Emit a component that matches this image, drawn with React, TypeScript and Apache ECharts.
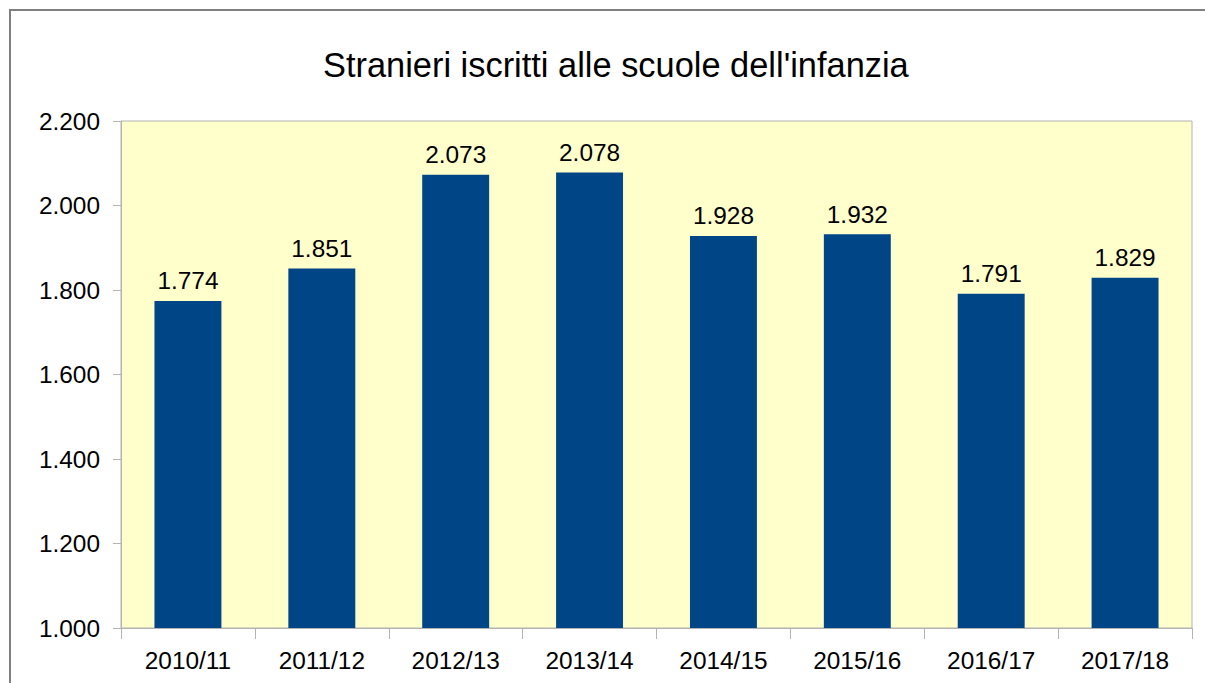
import React, { useEffect, useRef } from "react";
import * as echarts from "echarts";

const categories = ["2010/11", "2011/12", "2012/13", "2013/14", "2014/15", "2015/16", "2016/17", "2017/18"];
const values = [1774, 1851, 2073, 2078, 1928, 1932, 1791, 1829];
const titleText = "Stranieri iscritti alle scuole dell'infanzia";

const fmt = (v: number) => {
  const s = Math.round(v).toString();
  return s.replace(/\B(?=(\d{3})+(?!\d))/g, ".");
};

export default function App() {
  const ref = useRef<HTMLDivElement>(null);
  useEffect(() => {
    if (!ref.current) return;
    const chart = echarts.init(ref.current, null, { renderer: "svg" });
    const font = "'Liberation Sans', Arial, sans-serif";
    chart.setOption({
      animation: false,
      backgroundColor: "#ffffff",
      textStyle: { fontFamily: font },
      title: {
        text: titleText,
        left: 323,
        top: 48,
        padding: 0,
        textStyle: { fontSize: 34.4, fontWeight: "normal", color: "#000", fontFamily: font },
      },
      graphic: [
        {
          type: "rect",
          shape: { x: 10, y: 10, width: 1400, height: 1000 },
          style: { fill: "none", stroke: "#808080", lineWidth: 2 },
          silent: true,
        },
      ],
      grid: {
        left: 121,
        right: 13,
        top: 121,
        bottom: 55,
        show: true,
        backgroundColor: "#ffffcc",
        borderColor: "#b3b3b3",
        borderWidth: 1,
        containLabel: false,
      },
      xAxis: {
        type: "category",
        data: categories,
        axisLine: { show: true, lineStyle: { color: "#b3b3b3", width: 1 } },
        axisTick: { show: true, length: 11, lineStyle: { color: "#b3b3b3" } },
        axisLabel: { color: "#000", fontSize: 24.4, margin: 20, fontFamily: font },
        splitLine: { show: false },
      },
      yAxis: {
        type: "value",
        min: 1000,
        max: 2200,
        interval: 200,
        axisLine: { show: true, lineStyle: { color: "#b3b3b3", width: 1 } },
        axisTick: { show: true, length: 8, lineStyle: { color: "#b3b3b3" } },
        axisLabel: { color: "#000", fontSize: 24.4, margin: 21, fontFamily: font, formatter: (v: number) => fmt(v) },
        splitLine: { show: false },
      },
      series: [
        {
          type: "bar",
          data: values,
          barWidth: "50%",
          itemStyle: { color: "#004586" },
          label: {
            show: true,
            position: "top",
            distance: 8,
            color: "#000",
            fontSize: 24.4,
            fontFamily: font,
            formatter: (p: any) => fmt(p.value),
          },
        },
      ],
    });
    return () => chart.dispose();
  }, []);
  return (
    <div
      ref={ref}
      style={{ position: "absolute", left: 0, top: 0, width: 1205, height: 683 }}
    />
  );
}
